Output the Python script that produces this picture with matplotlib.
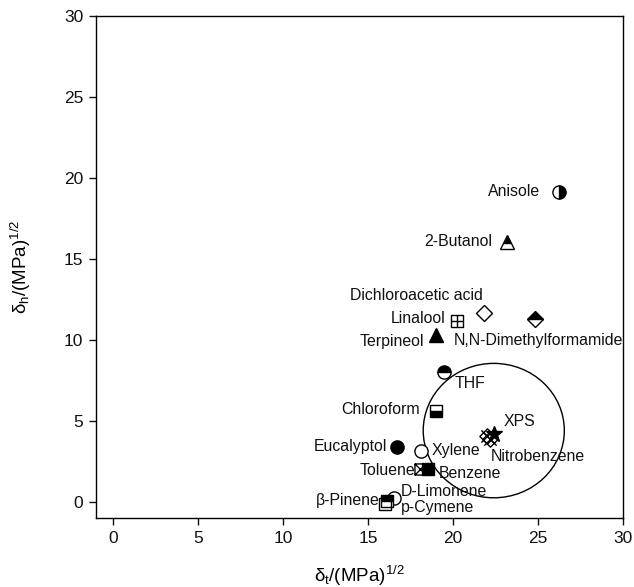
import matplotlib
matplotlib.use('Agg')
import matplotlib.pyplot as plt
from matplotlib.path import Path
from matplotlib.patches import Ellipse

plt.rcParams['font.family'] = ['Liberation Sans', 'DejaVu Sans']
plt.rcParams['mathtext.fontset'] = 'custom'
plt.rcParams['mathtext.rm'] = 'Liberation Sans'
plt.rcParams['mathtext.it'] = 'Liberation Sans:italic'

# ---------------- data ----------------
solvents = ['Anisole', '2-Butanol', 'Dichloroacetic acid', 'Linalool',
            'N,N-Dimethylformamide', 'Terpineol', 'THF', 'Chloroform',
            'XPS', 'Nitrobenzene', 'Eucalyptol', 'Xylene', 'Toluene',
            'Benzene', 'D-Limonene', 'β-Pinene', 'p-Cymene']
delta_t = [26.25, 23.18, 21.84, 20.23, 24.84, 19.02, 19.45, 19.02,
           22.39, 22.0, 16.70, 18.10, 18.05, 18.55, 16.55, 16.10, 16.0]
delta_h = [19.15, 16.07, 11.64, 11.18, 11.26, 10.29, 8.02, 5.64,
           4.20, 4.05, 3.37, 3.16, 2.00, 2.00, 0.22, 0.05, -0.12]

# second (overlapping) cross-diamond mark next to Nitrobenzene
extra_t = [22.2]
extra_h = [3.9]

xps_sphere_center = (22.4, 4.4)
xps_sphere_radius = 4.15

x_ticks = [0, 5, 10, 15, 20, 25, 30]
y_ticks = [0, 5, 10, 15, 20, 25, 30]

# ---------------- custom marker paths ----------------
M, L, C = Path.MOVETO, Path.LINETO, Path.CLOSEPOLY
sq_plus = Path([(-1, -1), (1, -1), (1, 1), (-1, 1), (-1, -1),
                (0, -1), (0, 1), (-1, 0), (1, 0)],
               [M, L, L, L, C, M, L, M, L])
sq_x = Path([(-1, -1), (1, -1), (1, 1), (-1, 1), (-1, -1),
             (-1, -1), (1, 1), (-1, 1), (1, -1)],
            [M, L, L, L, C, M, L, M, L])
x_diamond = Path([(0, -1), (1, 0), (0, 1), (-1, 0), (0, -1),
                  (-0.8, -0.8), (0.8, 0.8), (-0.8, 0.8), (0.8, -0.8)],
                 [M, L, L, L, C, M, L, M, L])

K, W = 'black', 'white'
styles = {
    'Anisole': dict(marker='o', fillstyle='right', mfc=K, mfcalt=W, ms=9.5),
    '2-Butanol': dict(marker='^', fillstyle='top', mfc=K, mfcalt=W, ms=10),
    'Dichloroacetic acid': dict(marker='D', mfc=W, ms=8.5),
    'Linalool': dict(marker=sq_plus, mfc='none', ms=8),
    'N,N-Dimethylformamide': dict(marker='D', fillstyle='top', mfc=K, mfcalt=W, ms=8.5),
    'Terpineol': dict(marker='^', mfc=K, ms=10),
    'THF': dict(marker='o', fillstyle='top', mfc=K, mfcalt=W, ms=9.5),
    'Chloroform': dict(marker='s', fillstyle='bottom', mfc=K, mfcalt=W, ms=8.5),
    'XPS': dict(marker='*', mfc=K, ms=12),
    'Nitrobenzene': dict(marker=x_diamond, mfc='none', ms=11),
    'Eucalyptol': dict(marker='o', mfc=K, ms=9.5),
    'Xylene': dict(marker='o', mfc=W, ms=9.5),
    'Toluene': dict(marker=sq_x, mfc=W, ms=8),
    'Benzene': dict(marker='s', mfc=K, ms=8.5),
    'D-Limonene': dict(marker='o', mfc='none', ms=9.5),
    'β-Pinene': dict(marker='s', fillstyle='top', mfc=K, mfcalt=W, ms=8.5),
    'p-Cymene': dict(marker='s', mfc='none', ms=8.5),
}

# label offsets (points) and horizontal alignment
labels = {
    'Anisole': ((-13.7, 0), 'right'),
    '2-Butanol': ((-10.6, 0), 'right'),
    'Dichloroacetic acid': ((-1, 12.7), 'right'),
    'Linalool': ((-8.4, 1.7), 'right'),
    'N,N-Dimethylformamide': ((-58.8, -14.9), 'left'),
    'Terpineol': ((-8.6, -4.8), 'right'),
    'THF': ((7.7, -8.4), 'left'),
    'Chloroform': ((-12, 0.7), 'right'),
    'XPS': ((7.2, 8.9), 'left'),
    'Nitrobenzene': ((3.0, -14.3), 'left'),
    'Eucalyptol': ((-7, 0.5), 'right'),
    'Xylene': ((7.7, 0), 'left'),
    'Toluene': ((-3.2, -0.5), 'right'),
    'Benzene': ((7.2, -3.1), 'left'),
    'D-Limonene': ((4.3, 5.0), 'left'),
    'β-Pinene': ((-5.2, 0.3), 'right'),
    'p-Cymene': ((11.3, -2.6), 'left'),
}

fig = plt.figure(figsize=(6.34, 5.87), dpi=100)
ax = fig.add_axes([0.1514, 0.1175, 0.8312, 0.8552])

ax.add_patch(Ellipse(xps_sphere_center, 2 * xps_sphere_radius, 2 * xps_sphere_radius,
                     fill=False, ec='black', lw=1.0, zorder=1))

ax.plot(extra_t, extra_h, ls='none', marker=x_diamond, mfc='none', ms=11,
        mec='black', mew=1.0, zorder=3)

for name, x, y in zip(solvents, delta_t, delta_h):
    st = dict(styles[name])
    mfcalt = st.pop('mfcalt', None)
    kw = dict(ls='none', mec='black', mew=1.0, zorder=3)
    if mfcalt is not None:
        kw['markerfacecoloralt'] = mfcalt
    ax.plot([x], [y], **st, **kw)
    (dx, dy), ha = labels[name]
    ax.annotate(name, (x, y), xytext=(dx, dy), textcoords='offset points',
                ha=ha, va='center', fontsize=11.4, color='#111111', zorder=4)

ax.set_xlim(-1, 30)
ax.set_ylim(-1, 30)
ax.set_xticks(x_ticks)
ax.set_yticks(y_ticks)
ax.tick_params(direction='out', length=5, width=1.0, labelsize=12.5, pad=4,
               top=False, right=False, colors='#111111')
for s in ax.spines.values():
    s.set_linewidth(1.0)

ax.set_xlabel(r'$\mathrm{\delta_t}$/(MPa)$^{1/2}$', fontsize=13.5, labelpad=13)
ax.set_ylabel(r'$\mathrm{\delta_h}$/(MPa)$^{1/2}$', fontsize=13.5, labelpad=22)

fig.savefig('out.png', dpi=100)
